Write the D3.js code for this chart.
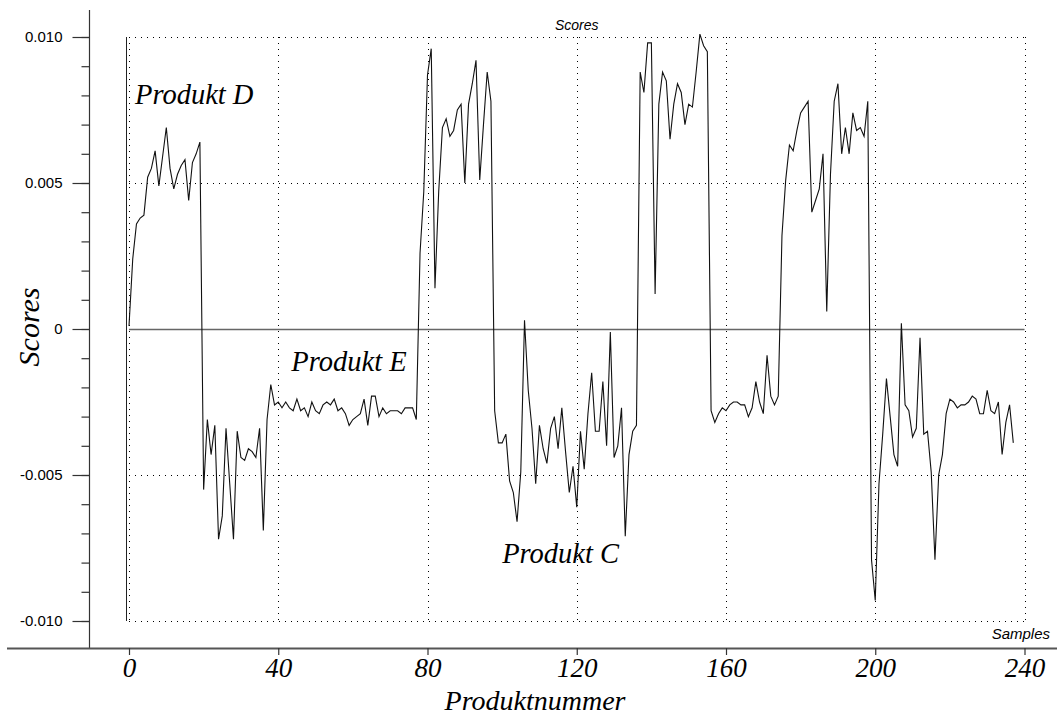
<!DOCTYPE html>
<html>
<head>
<meta charset="utf-8">
<script src="https://cdn.jsdelivr.net/npm/d3@7/dist/d3.min.js"></script>
<style>
  html, body { margin: 0; padding: 0; background: #fff; }
  svg { display: block; }
  .serif { font-family: "Liberation Serif", "Times New Roman", serif; font-style: italic; }
  .sans { font-family: "Liberation Sans", Arial, sans-serif; }
</style>
</head>
<body>
<svg id="chart" width="1057" height="715"></svg>
<script>
// Score per sample (sample number = array index)
const scores = [
  0.0001, 0.0024, 0.0036, 0.0038, 0.0039, 0.0052, 0.0055, 0.0061, 0.0049, 0.0059,
  0.0069, 0.0055, 0.0048, 0.0053, 0.0056, 0.0058, 0.0044, 0.0057, 0.0060, 0.0064,
  -0.0055, -0.0031, -0.0043, -0.0033, -0.0072, -0.0064, -0.0034, -0.0053, -0.0072, -0.0035,
  -0.0044, -0.0045, -0.0041, -0.0042, -0.0044, -0.0034, -0.0069, -0.0031, -0.0019, -0.0026,
  -0.0025, -0.0027, -0.0025, -0.0027, -0.0028, -0.0024, -0.0028, -0.0027, -0.0030, -0.0025,
  -0.0028, -0.0029, -0.0026, -0.0025, -0.0026, -0.0024, -0.0028, -0.0027, -0.0029, -0.0033,
  -0.0031, -0.0030, -0.0029, -0.0024, -0.0033, -0.0023, -0.0023, -0.0030, -0.0027, -0.0029,
  -0.0028, -0.0028, -0.0028, -0.0029, -0.0027, -0.0027, -0.0027, -0.0031, 0.0026, 0.0047,
  0.0087, 0.0096, 0.0014, 0.0047, 0.0069, 0.0072, 0.0066, 0.0068, 0.0075, 0.0077,
  0.0050, 0.0077, 0.0084, 0.0092, 0.0051, 0.0070, 0.0088, 0.0078, -0.0028, -0.0039,
  -0.0039, -0.0036, -0.0052, -0.0056, -0.0066, -0.0049, 0.0003, -0.0021, -0.0034, -0.0053,
  -0.0033, -0.0041, -0.0046, -0.0034, -0.0030, -0.0041, -0.0027, -0.0042, -0.0056, -0.0047,
  -0.0061, -0.0035, -0.0048, -0.0029, -0.0015, -0.0035, -0.0035, -0.0018, -0.0040, -0.0001,
  -0.0044, -0.0040, -0.0027, -0.0071, -0.0043, -0.0035, -0.0033, 0.0088, 0.0081, 0.0098,
  0.0098, 0.0012, 0.0077, 0.0088, 0.0085, 0.0065, 0.0077, 0.0084, 0.0081, 0.0070,
  0.0077, 0.0076, 0.0088, 0.0101, 0.0097, 0.0095, -0.0028, -0.0032, -0.0029, -0.0027,
  -0.0028, -0.0026, -0.0025, -0.0025, -0.0026, -0.0026, -0.0030, -0.0027, -0.0018, -0.0025,
  -0.0029, -0.0009, -0.0023, -0.0026, -0.0023, 0.0032, 0.0051, 0.0063, 0.0061, 0.0068,
  0.0074, 0.0076, 0.0078, 0.0040, 0.0044, 0.0048, 0.0060, 0.0006, 0.0053, 0.0078,
  0.0084, 0.0060, 0.0069, 0.0060, 0.0074, 0.0068, 0.0069, 0.0066, 0.0078, -0.0079,
  -0.0093, -0.0053, -0.0036, -0.0017, -0.0030, -0.0043, -0.0047, 0.0002, -0.0026, -0.0028,
  -0.0037, -0.0034, -0.0003, -0.0036, -0.0035, -0.0049, -0.0079, -0.0050, -0.0043, -0.0029,
  -0.0024, -0.0025, -0.0027, -0.0026, -0.0026, -0.0025, -0.0023, -0.0024, -0.0029, -0.0029,
  -0.0021, -0.0028, -0.0029, -0.0025, -0.0043, -0.0032, -0.0026, -0.0039
];
const sampleNumbers = d3.range(scores.length);

// Axis ticks and labels
const xTicks = [0, 40, 80, 120, 160, 200, 240];
const yTicks = [-0.010, -0.005, 0, 0.005, 0.010];
const yTickLabels = ["-0.010", "-0.005", "0", "0.005", "0.010"];
const yMinorTicks = d3.range(-10, 11).map(k => k / 1000);

// Group annotations: name and the (sample, score) point where its text starts
const groupNames = ["Produkt D", "Produkt E", "Produkt C"];
const groupAnchorX = [1.6, 43.5, 100];
const groupAnchorY = [0.0077, -0.00145, -0.0080];

const svg = d3.select("#chart");

const x = d3.scaleLinear().domain([0, 240]).range([129, 1024.5]);
const y = d3.scaleLinear().domain([-0.010, 0.010]).range([621, 37]);

const axisY = 648;   // position of the horizontal axis line
const axisX = 89;    // position of the vertical axis line

// dotted grid
const grid = svg.append("g")
  .attr("stroke", "#000")
  .attr("stroke-width", 1)
  .attr("stroke-dasharray", "1,5")
  .attr("fill", "none");

grid.selectAll("line.h")
  .data(yTicks.filter(d => d !== 0))
  .join("line")
  .attr("x1", x(0)).attr("x2", x(240))
  .attr("y1", d => Math.round(y(d)) + 0.5).attr("y2", d => Math.round(y(d)) + 0.5);

grid.selectAll("line.v")
  .data(xTicks)
  .join("line")
  .attr("x1", d => Math.round(x(d)) + 0.5).attr("x2", d => Math.round(x(d)) + 0.5)
  .attr("y1", y(0.010)).attr("y2", y(-0.010));

// solid frame line at the start of the samples and the zero line
svg.append("line")
  .attr("x1", Math.round(x(0)) - 2.5).attr("x2", Math.round(x(0)) - 2.5)
  .attr("y1", y(0.010)).attr("y2", y(-0.010))
  .attr("stroke", "#222").attr("stroke-width", 1);

svg.append("line")
  .attr("x1", x(0)).attr("x2", x(240))
  .attr("y1", y(0) + 0.5).attr("y2", y(0) + 0.5)
  .attr("stroke", "#666").attr("stroke-width", 1.6);

// score line
const line = d3.line()
  .x((d, i) => x(sampleNumbers[i]))
  .y(d => y(d));

svg.append("path")
  .datum(scores)
  .attr("d", line)
  .attr("fill", "none")
  .attr("stroke", "#111")
  .attr("stroke-width", 1.1)
  .attr("stroke-linejoin", "miter");

// vertical axis
svg.append("line")
  .attr("x1", axisX + 0.5).attr("x2", axisX + 0.5)
  .attr("y1", 10).attr("y2", axisY)
  .attr("stroke", "#333").attr("stroke-width", 1.2);

const yMinor = svg.append("g")
  .attr("transform", `translate(${axisX + 0.5},0)`)
  .call(d3.axisLeft(y).tickValues(yMinorTicks).tickSize(8).tickFormat(""));
yMinor.select(".domain").remove();
yMinor.selectAll(".tick line").attr("stroke", "#333").attr("stroke-width", 1.2);

const yMajor = svg.append("g")
  .attr("transform", `translate(${axisX + 0.5},0)`)
  .call(d3.axisLeft(y).tickValues(yTicks).tickSize(17).tickPadding(10)
    .tickFormat((d, i) => yTickLabels[i]));
yMajor.select(".domain").remove();
yMajor.selectAll(".tick line").attr("stroke", "#333").attr("stroke-width", 1.2);
yMajor.selectAll(".tick text")
  .attr("class", "sans")
  .attr("font-size", 15)
  .attr("fill", "#000");

// horizontal axis
svg.append("line")
  .attr("x1", 7).attr("x2", 1057)
  .attr("y1", axisY + 0.5).attr("y2", axisY + 0.5)
  .attr("stroke", "#555").attr("stroke-width", 1.8);

const xAxis = svg.append("g")
  .attr("transform", `translate(0,${axisY})`)
  .call(d3.axisBottom(x).tickValues(xTicks).tickSize(7).tickFormat(d3.format("d")));
xAxis.select(".domain").remove();
xAxis.selectAll(".tick line").attr("stroke", "#333").attr("stroke-width", 1.2);
xAxis.selectAll(".tick text")
  .attr("class", "serif")
  .attr("font-size", 27)
  .attr("y", 29)
  .attr("dy", 0)
  .attr("fill", "#000");

// titles
svg.append("text")
  .attr("class", "serif")
  .attr("x", 535).attr("y", 710)
  .attr("text-anchor", "middle")
  .attr("font-size", 28)
  .text("Produktnummer");

svg.append("text")
  .attr("class", "serif")
  .attr("transform", "translate(39,327) rotate(-90)")
  .attr("text-anchor", "middle")
  .attr("font-size", 30)
  .text("Scores");

svg.append("text")
  .attr("class", "sans")
  .attr("x", x(120)).attr("y", 30)
  .attr("text-anchor", "middle")
  .attr("font-size", 14)
  .attr("font-style", "italic")
  .text("Scores");

svg.append("text")
  .attr("class", "sans")
  .attr("x", 1050).attr("y", 639)
  .attr("text-anchor", "end")
  .attr("font-size", 15)
  .attr("font-style", "italic")
  .text("Samples");

// group annotations
svg.selectAll("text.group")
  .data(groupNames)
  .join("text")
  .attr("class", "serif group")
  .attr("x", (d, i) => x(groupAnchorX[i]))
  .attr("y", (d, i) => y(groupAnchorY[i]))
  .attr("font-size", 28.5)
  .text(d => d);
</script>
</body>
</html>
